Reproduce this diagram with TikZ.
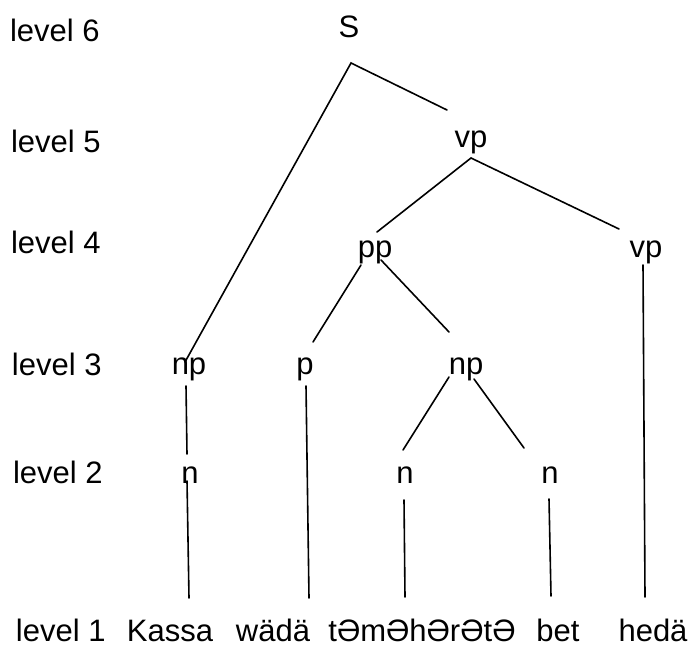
\documentclass[tikz,border=0pt]{standalone}
\usepackage{fontspec}
\setmainfont{Liberation Sans}
\begin{document}
\begin{tikzpicture}[x=1pt,y=-1pt,
  lbl/.style={inner sep=0pt,outer sep=0pt,anchor=base,font=\fontsize{31}{36}\selectfont},
  lvl/.style={lbl,anchor=base west},
  edge/.style={line width=1.6pt,line cap=round}]
\useasboundingbox (0,0) rectangle (692,647);

% level labels
\node[lvl] (l6) at (10,42)  {level 6};
\node[lvl] (l5) at (11,153) {level 5};
\node[lvl] (l4) at (11,253) {level 4};
\node[lvl] (l3) at (12,375) {level 3};
\node[lvl] (l2) at (13,483) {level 2};
\node[lvl] (l1) at (16,641) {level 1};

% category labels
\node[lbl] (S)   at (349,38)  {S};
\node[lbl] (vpA) at (471,147) {vp};
\node[lbl] (pp)  at (375,257) {pp};
\node[lbl] (vpB) at (646,257) {vp};
\node[lbl] (npA) at (189,374) {np};
\node[lbl] (p)   at (305,374) {p};
\node[lbl] (npB) at (466,374) {np};
\node[lbl] (nA)  at (190,483) {n};
\node[lbl] (nB)  at (405,483) {n};
\node[lbl] (nC)  at (550,483) {n};

% words
\node[lbl] (w1) at (170,641) {Kassa};
\node[lbl] (w2) at (273,641) {wädä};
\node[lbl] (w3) at (422,641) {tƏmƏhƏrƏtƏ};
\node[lbl] (w4) at (558,641) {bet};
\node[lbl] (w5) at (653,641) {hedä};

% branch end points
\coordinate (sTop)   at (351,63);
\coordinate (sL)     at (185,362);
\coordinate (sR)     at (447,110);
\coordinate (vpTop)  at (471,158);
\coordinate (vpL)    at (377,232);
\coordinate (vpR)    at (619,229);
\coordinate (vbTop)  at (643,265);
\coordinate (vbBot)  at (645,597);
\coordinate (ppL1)   at (361,265);
\coordinate (ppL2)   at (313,342);
\coordinate (ppR1)   at (381,260);
\coordinate (ppR2)   at (449,332);
\coordinate (naTop)  at (186,386);
\coordinate (naBot)  at (187,454);
\coordinate (kTop)   at (187,481);
\coordinate (kBot)   at (189,598);
\coordinate (pTop)   at (306,386);
\coordinate (pBot)   at (309,598);
\coordinate (nbL1)   at (449,377);
\coordinate (nbL2)   at (403,450);
\coordinate (nbR1)   at (474,379);
\coordinate (nbR2)   at (524,448);
\coordinate (tTop)   at (404,500);
\coordinate (tBot)   at (405,597);
\coordinate (bTop)   at (549,499);
\coordinate (bBot)   at (551,596);

% branches
\draw[edge] (sL) -- (sTop) -- (sR);
\draw[edge] (vpL) -- (vpTop) -- (vpR);
\draw[edge] (vbTop) -- (vbBot);
\draw[edge] (ppL1) -- (ppL2);
\draw[edge] (ppR1) -- (ppR2);
\draw[edge] (naTop) -- (naBot);
\draw[edge] (kTop) -- (kBot);
\draw[edge] (pTop) -- (pBot);
\draw[edge] (nbL1) -- (nbL2);
\draw[edge] (nbR1) -- (nbR2);
\draw[edge] (tTop) -- (tBot);
\draw[edge] (bTop) -- (bBot);
\end{tikzpicture}
\end{document}
